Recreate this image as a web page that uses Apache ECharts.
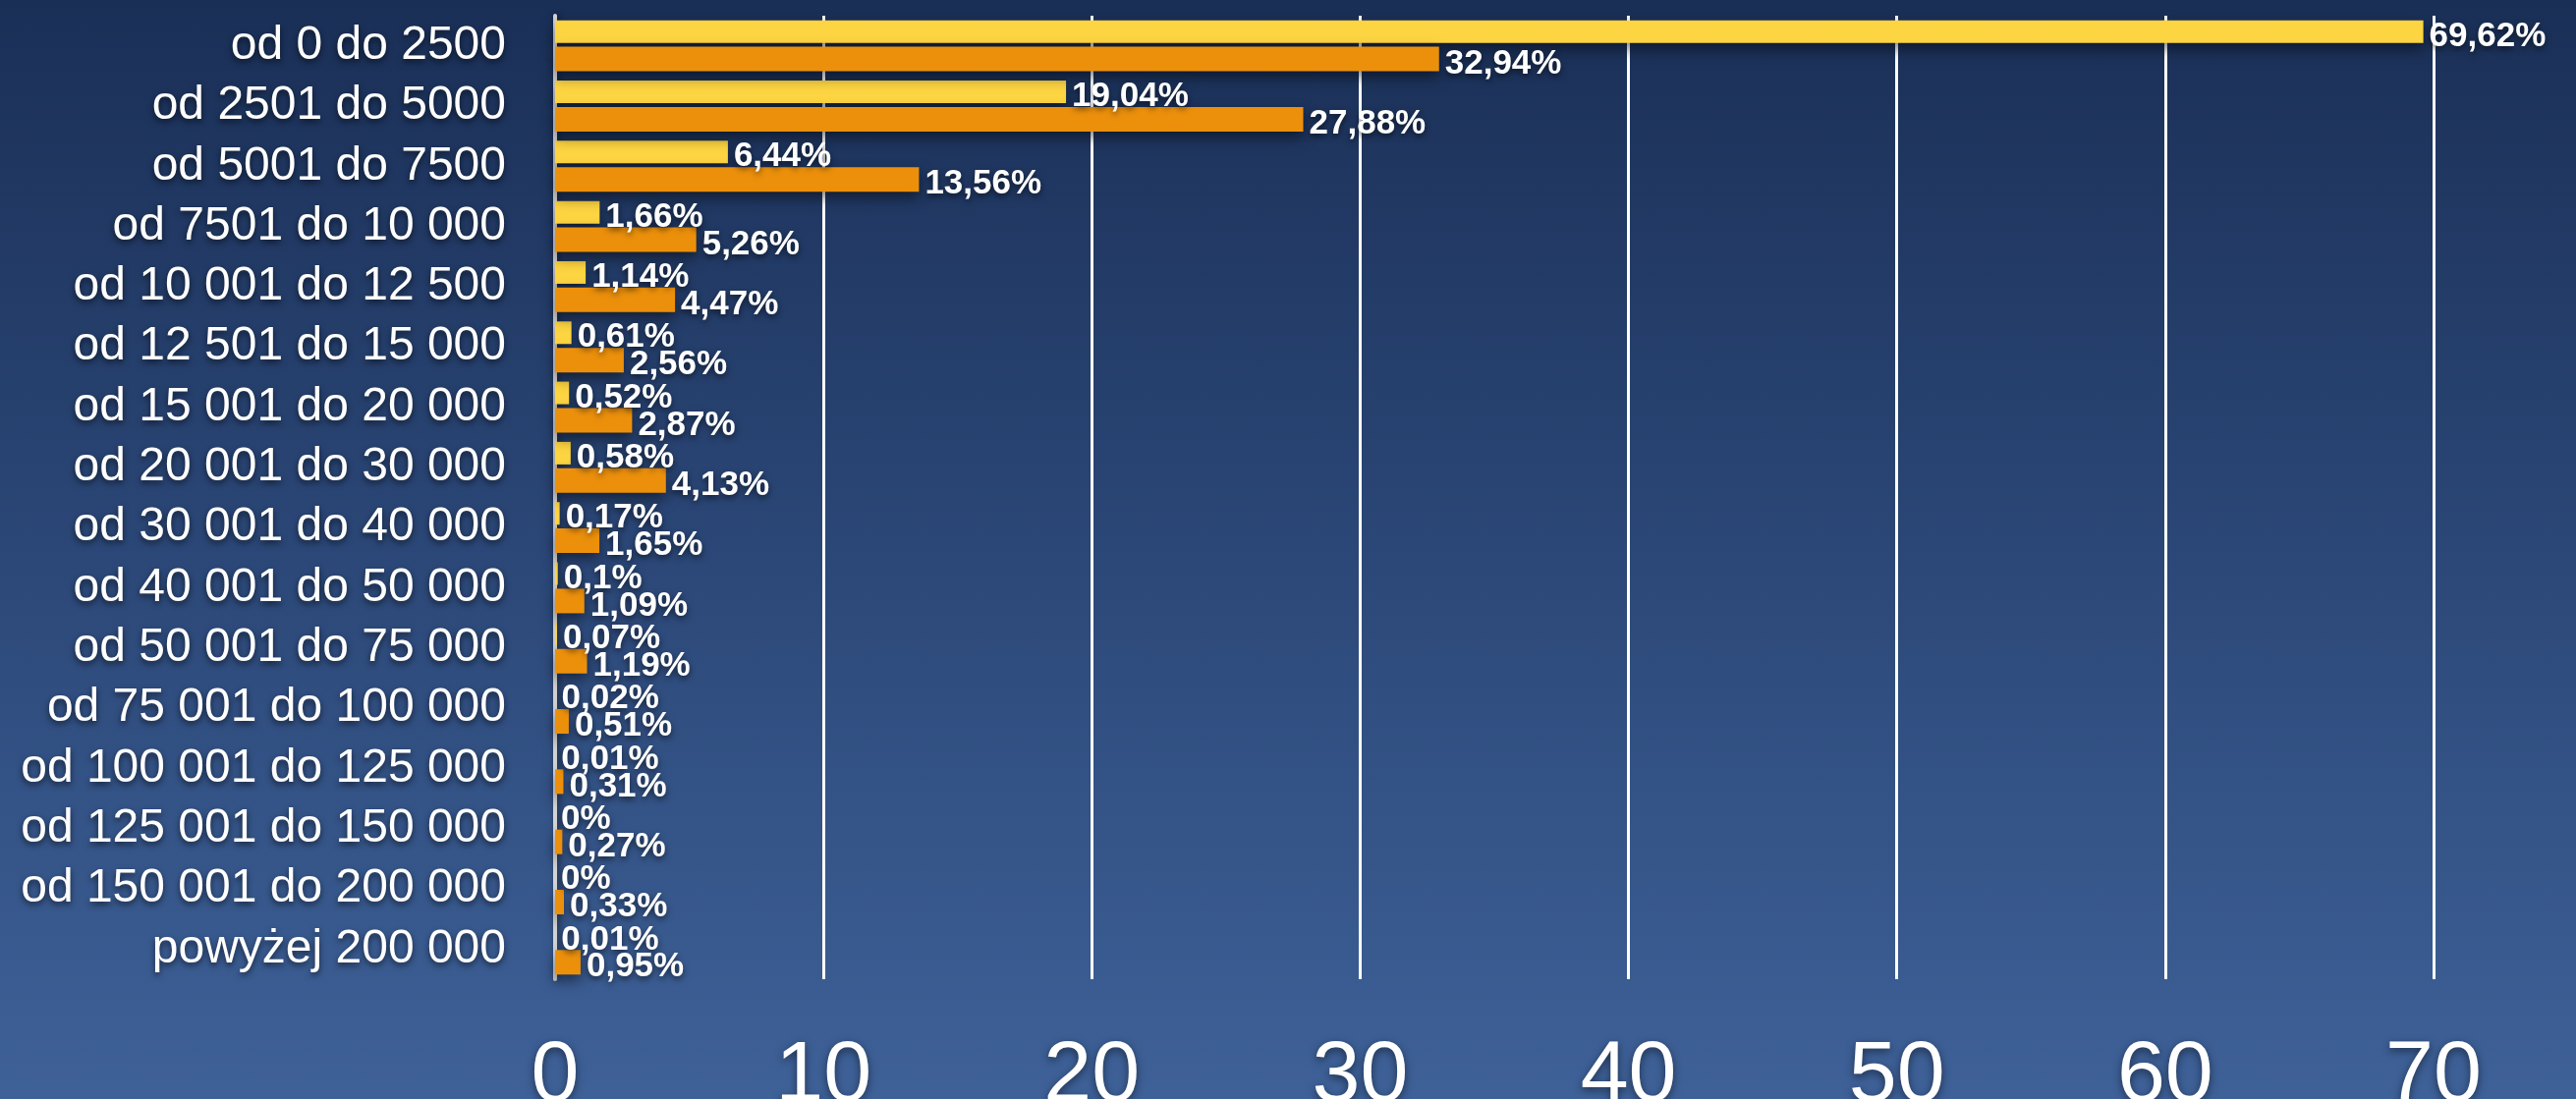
<!DOCTYPE html>
<html>
<head>
<meta charset="utf-8">
<script src="https://cdn.jsdelivr.net/npm/echarts@6/dist/echarts.min.js"></script>
<style>
  html, body { margin: 0; padding: 0; }
  #chart { width: 2622px; height: 1119px; }
</style>
</head>
<body>
<div id="chart"></div>
<script>
const categories = [
  "od 0 do 2500",
  "od 2501 do 5000",
  "od 5001 do 7500",
  "od 7501 do 10 000",
  "od 10 001 do 12 500",
  "od 12 501 do 15 000",
  "od 15 001 do 20 000",
  "od 20 001 do 30 000",
  "od 30 001 do 40 000",
  "od 40 001 do 50 000",
  "od 50 001 do 75 000",
  "od 75 001 do 100 000",
  "od 100 001 do 125 000",
  "od 125 001 do 150 000",
  "od 150 001 do 200 000",
  "powyżej 200 000",
];
const yellowValues = [69.62, 19.04, 6.44, 1.66, 1.14, 0.61, 0.52, 0.58, 0.17, 0.1, 0.07, 0.02, 0.01, 0, 0, 0.01];
const orangeValues = [32.94, 27.88, 13.56, 5.26, 4.47, 2.56, 2.87, 4.13, 1.65, 1.09, 1.19, 0.51, 0.31, 0.27, 0.33, 0.95];
const xTicks = [0, 10, 20, 30, 40, 50, 60, 70];

const chart = echarts.init(document.getElementById("chart"));

const fontFamily = '"Helvetica Neue", Helvetica, "Liberation Sans", Arial, sans-serif';

const valueLabel = {
  show: true,
  position: "right",
  distance: 6,
  offset: [0, 5],
  color: "#fff",
  fontFamily: fontFamily,
  fontWeight: "bold",
  fontSize: 35,
  textShadowColor: "rgba(0,0,0,0.6)",
  textShadowBlur: 6,
  textShadowOffsetY: 3,
  formatter: (p) => String(p.value).replace(".", ",") + "%",
};

const barShadow = {
  shadowColor: "rgba(0,0,0,0.5)",
  shadowBlur: 14,
  shadowOffsetY: 6,
};

const option = {
  backgroundColor: new echarts.graphic.LinearGradient(0, 0, 0, 1, [
    { offset: 0, color: "#1a2f56" },
    { offset: 0.5, color: "#2b4777" },
    { offset: 1, color: "#3e6198" },
  ]),
  animation: false,
  grid: {
    left: 565,
    right: 145,
    top: 16,
    bottom: 122,
    containLabel: false,
    outerBoundsMode: "none",
  },
  xAxis: {
    type: "value",
    min: xTicks[0],
    max: xTicks[xTicks.length - 1],
    interval: 10,
    axisLine: { show: false },
    axisTick: { show: false },
    splitLine: {
      lineStyle: { color: "#ffffff", width: 3 },
    },
    axisLabel: {
      color: "#fff",
      fontFamily: fontFamily,
      fontSize: 88,
      margin: 56,
      textShadowColor: "rgba(0,0,0,0.5)",
      textShadowBlur: 8,
      textShadowOffsetY: 3,
    },
  },
  yAxis: {
    type: "category",
    inverse: true,
    data: categories,
    axisTick: { show: false },
    axisLine: {
      lineStyle: {
        color: "#d4d4d4",
        width: 4,
        shadowColor: "rgba(0,0,0,0.5)",
        shadowBlur: 6,
        shadowOffsetX: 2,
      },
    },
    axisLabel: {
      interval: 0,
      hideOverlap: false,
      color: "#fff",
      fontFamily: fontFamily,
      fontSize: 48,
      margin: 50,
      padding: [28, 0, 0, 0],
      textShadowColor: "rgba(0,0,0,0.6)",
      textShadowBlur: 6,
      textShadowOffsetY: 3,
    },
  },
  series: [
    {
      name: "yellow",
      type: "bar",
      data: yellowValues,
      barWidth: 23,
      barGap: "17%",
      itemStyle: Object.assign({ color: "#fdd441" }, barShadow),
      label: valueLabel,
    },
    {
      name: "orange",
      type: "bar",
      data: orangeValues,
      barWidth: 25,
      itemStyle: Object.assign({ color: "#ec900c" }, barShadow),
      label: valueLabel,
    },
  ],
};

chart.setOption(option);
</script>
</body>
</html>
